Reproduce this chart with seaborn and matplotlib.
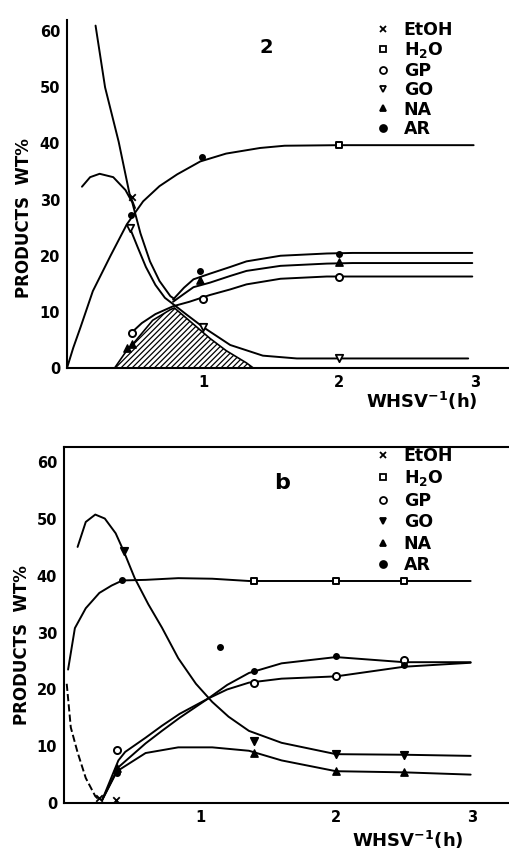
import matplotlib
matplotlib.use("Agg")
import matplotlib.pyplot as plt
import seaborn as sns
from matplotlib.lines import Line2D

sns.set_theme(style="white")
plt.rcParams["font.family"] = ["DejaVu Sans"]
plt.rcParams["font.weight"] = "bold"
plt.rcParams["mathtext.default"] = "bf"
plt.rcParams["hatch.linewidth"] = 0.9
for k in ["text.color", "axes.labelcolor", "xtick.color", "ytick.color", "axes.edgecolor"]:
    plt.rcParams[k] = "black"

# ---------------- panel a (top) ----------------
etoh_a_x = [0.21, 0.28, 0.38, 0.46, 0.5]
etoh_a_y = [61.0, 50.0, 40.3, 31.0, 28.5]
h2o_a_x = [0.0, 0.046, 0.1, 0.19, 0.32, 0.44, 0.56, 0.68, 0.81, 0.98, 1.17, 1.42, 1.6, 2.0, 2.45, 2.99]
h2o_a_y = [0.0, 3.6, 7.3, 13.7, 20.0, 25.6, 29.7, 32.4, 34.5, 36.8, 38.2, 39.2, 39.6, 39.7, 39.7, 39.7]
ar_a_x = [0.11, 0.17, 0.24, 0.34, 0.43, 0.48, 0.54, 0.61, 0.68, 0.76, 0.79]
ar_a_y = [32.3, 34.0, 34.6, 34.0, 31.7, 29.5, 24.0, 19.0, 15.5, 12.8, 12.3]
go_a_x = [0.47, 0.52, 0.58, 0.65, 0.72, 0.79, 0.88, 1.0, 1.2, 1.44, 1.69, 2.0, 2.45, 2.95]
go_a_y = [24.5, 21.5, 18.0, 14.8, 12.5, 11.2, 9.5, 7.3, 4.1, 2.2, 1.7, 1.7, 1.7, 1.7]
rise_x = [0.78, 0.86, 0.93, 1.05, 1.2, 1.32, 1.57, 1.91, 2.1, 2.98]
rise_hi_y = [12.2, 14.3, 15.8, 16.8, 18.0, 19.0, 20.0, 20.4, 20.5, 20.5]
rise_mid_y = [11.8, 13.2, 14.4, 15.2, 16.4, 17.3, 18.2, 18.6, 18.7, 18.7]
gp_a_x = [0.47, 0.55, 0.65, 0.78, 0.9, 1.05, 1.2, 1.32, 1.57, 1.91, 2.1, 2.98]
gp_a_y = [6.2, 8.0, 9.6, 11.0, 11.8, 13.0, 14.0, 14.9, 15.9, 16.3, 16.3, 16.3]
na_a_x = [0.35, 0.43, 0.51, 0.63, 0.76, 0.79, 0.93, 1.05, 1.17, 1.32, 1.37]
na_a_y = [0.0, 2.8, 5.0, 8.5, 10.4, 10.7, 7.8, 5.3, 3.1, 0.9, 0.0]

# marker points, panel a
m_a_etoh = ([0.48], [30.5])
m_a_h2o = ([2.0], [39.7])
m_a_gp = ([0.48, 1.0, 2.0], [6.2, 12.3, 16.3])
m_a_go = ([0.46, 1.0, 2.0], [24.9, 7.3, 1.8])
m_a_na = ([0.44, 0.48, 0.98, 2.0], [3.5, 4.3, 15.6, 18.8])
m_a_ar = ([0.47, 0.98, 2.0, 0.99], [27.3, 17.3, 20.3, 37.6])

# ---------------- panel b (bottom) ----------------
go_b_x = [0.1, 0.16, 0.23, 0.3, 0.38, 0.44, 0.52, 0.62, 0.72, 0.84, 0.97, 1.09, 1.21, 1.36, 1.6, 2.0, 2.5, 2.99]
go_b_y = [45.1, 49.5, 50.8, 50.1, 47.5, 44.3, 39.6, 35.0, 30.9, 25.5, 21.0, 17.8, 15.2, 12.7, 10.6, 8.6, 8.5, 8.3]
h2o_b_x = [0.03, 0.08, 0.16, 0.26, 0.35, 0.43, 0.6, 0.84, 1.09, 1.36, 2.0, 2.5, 2.99]
h2o_b_y = [23.5, 30.8, 34.3, 37.0, 38.3, 39.2, 39.3, 39.6, 39.5, 39.1, 39.1, 39.1, 39.1]
etoh_b_x = [0.02, 0.05, 0.1, 0.16, 0.23, 0.26]
etoh_b_y = [21.0, 13.3, 8.9, 4.4, 1.2, 0.5]
gp_b_x = [0.28, 0.4, 0.45, 0.6, 0.72, 0.85, 1.06, 1.2, 1.36, 1.6, 2.0, 2.5, 2.99]
gp_b_y = [0.5, 7.5, 9.0, 11.5, 13.6, 15.7, 18.4, 20.0, 21.2, 21.9, 22.3, 24.0, 24.7]
ar_b_x = [0.28, 0.4, 0.6, 0.72, 0.85, 1.06, 1.2, 1.36, 1.6, 2.0, 2.5, 2.99]
ar_b_y = [0.5, 6.3, 10.5, 12.7, 15.0, 18.4, 20.8, 22.9, 24.6, 25.7, 24.8, 24.8]
na_b_x = [0.28, 0.39, 0.6, 0.84, 1.09, 1.36, 1.6, 2.0, 2.5, 2.99]
na_b_y = [0.5, 5.6, 8.8, 9.8, 9.8, 9.2, 7.5, 5.6, 5.4, 5.0]

m_b_etoh = ([0.255, 0.38], [0.9, 0.5])
m_b_h2o = ([1.4, 2.0, 2.5], [39.1, 39.1, 39.1])
m_b_gp = ([0.39, 1.4, 2.0, 2.5], [9.3, 21.2, 22.3, 25.2])
m_b_go = ([0.44, 1.4, 2.0, 2.5], [44.3, 11.0, 8.6, 8.5])
m_b_na = ([0.39, 1.4, 2.0, 2.5], [6.2, 8.8, 5.6, 5.4])
m_b_ar = ([0.39, 1.15, 1.4, 2.0, 2.5, 0.43], [5.3, 27.5, 23.2, 25.9, 24.3, 39.2])

labels = ["EtOH", "H$_2$O", "GP", "GO", "NA", "AR"]
y_ticks = [0, 10, 20, 30, 40, 50, 60]
x_ticks = [1, 2, 3]

LW = 1.4
fig = plt.figure(figsize=(5.10, 8.52), dpi=100)
ax1 = fig.add_axes([67 / 510, 1 - 368 / 852, 443 / 510, 348 / 852])
ax2 = fig.add_axes([64 / 510, 1 - 803 / 852, 446 / 510, 356 / 852])


def line(ax, x, y, ls="-"):
    sns.lineplot(x=x, y=y, ax=ax, color="black", lw=LW, sort=False,
                 estimator=None, linestyle=ls, legend=False)


def styles(go_filled):
    return [
        dict(marker="x", color="black", s=22, linewidths=1.3),
        dict(marker="s", color="white", edgecolor="black", s=20, linewidths=1.4),
        dict(marker="o", color="white", edgecolor="black", s=26, linewidths=1.4),
        dict(marker="v", color="black" if go_filled else "white", edgecolor="black", s=28, linewidths=1.3),
        dict(marker="^", color="black", edgecolor="black", s=28, linewidths=1.0),
        dict(marker="o", color="black", edgecolor="black", s=16, linewidths=1.0),
    ]


def markers(ax, pts, go_filled):
    for (x, y), st in zip(pts, styles(go_filled)):
        sns.scatterplot(x=x, y=y, ax=ax, zorder=4, legend=False, **st)


def legend(ax, go_filled, anchor, spacing):
    handles = []
    for st in styles(go_filled):
        handles.append(Line2D([], [], linestyle="none", marker=st["marker"],
                              markerfacecolor=st["color"], markeredgecolor="black",
                              color="black", markersize=5, markeredgewidth=1.3))
    ax.legend(handles, labels, loc="upper left", bbox_to_anchor=anchor,
              frameon=False, handlelength=0.8, handletextpad=0.8,
              labelspacing=spacing, borderpad=0, borderaxespad=0,
              prop=dict(weight="bold", size=12.5), labelcolor="black")


def frame(ax, ymax, xmax, top_spine):
    ax.set_xlim(0, xmax)
    ax.set_ylim(0, ymax)
    ax.set_yticks(y_ticks)
    ax.set_xticks(x_ticks)
    ax.tick_params(axis="both", direction="in", length=4, width=1.2,
                   labelsize=10.5, pad=5, colors="black")
    for lab in ax.get_xticklabels() + ax.get_yticklabels():
        lab.set_fontweight("bold")
    for s in ["left", "bottom", "top", "right"]:
        ax.spines[s].set_color("black")
        ax.spines[s].set_linewidth(1.5)
    ax.spines["right"].set_visible(False)
    ax.spines["top"].set_visible(top_spine)
    ax.set_facecolor("white")


# panel a
ax1.fill_between(na_a_x, na_a_y, 0, facecolor="none", edgecolor="black",
                 hatch="//////", linewidth=1.2)
for x, y in [(etoh_a_x, etoh_a_y), (h2o_a_x, h2o_a_y), (ar_a_x, ar_a_y),
             (go_a_x, go_a_y), (rise_x, rise_hi_y), (rise_x, rise_mid_y),
             (gp_a_x, gp_a_y)]:
    line(ax1, x, y)
markers(ax1, [m_a_etoh, m_a_h2o, m_a_gp, m_a_go, m_a_na, m_a_ar], False)
frame(ax1, 62, 443 / 136, False)
ax1.set_ylabel("PRODUCTS  WT%", fontsize=12, fontweight="bold")
ax1.yaxis.set_label_coords(-0.077, 0.43)
ax1.set_xlabel("WHSV$^{-1}$(h)", fontsize=13, fontweight="bold")
ax1.xaxis.set_label_coords(0.80, -0.064)
ax1.text(0.45, 0.92, "2", transform=ax1.transAxes, fontsize=14,
         fontweight="bold", ha="center", va="center")
legend(ax1, False, ((376 - 67) / 443, (368 - 21) / 348), 0.08)

# panel b
line(ax2, etoh_b_x, etoh_b_y, ls="--")
for x, y in [(go_b_x, go_b_y), (h2o_b_x, h2o_b_y), (gp_b_x, gp_b_y),
             (ar_b_x, ar_b_y), (na_b_x, na_b_y)]:
    line(ax2, x, y)
markers(ax2, [m_b_etoh, m_b_h2o, m_b_gp, m_b_go, m_b_na, m_b_ar], True)
frame(ax2, 62.7, 446 / 136, True)
ax2.set_ylabel("PRODUCTS  WT%", fontsize=12, fontweight="bold")
ax2.yaxis.set_label_coords(-0.075, 0.444)
ax2.set_xlabel("WHSV$^{-1}$(h)", fontsize=13, fontweight="bold")
ax2.xaxis.set_label_coords(0.77, -0.072)
ax2.text((282 - 64) / 446, (803 - 483) / 356, "b", transform=ax2.transAxes,
         fontsize=16, fontweight="bold", ha="center", va="center")
legend(ax2, True, ((376 - 64) / 446, (803 - 447) / 356), 0.2)

fig.savefig("out.png", dpi=100, facecolor="white")
